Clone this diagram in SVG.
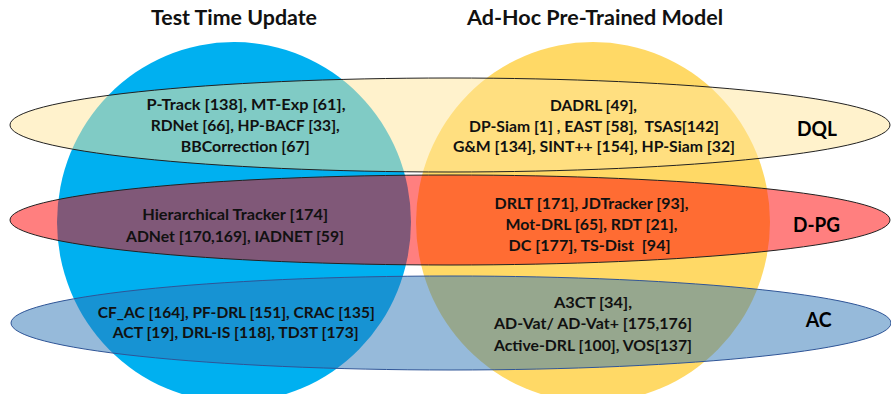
<svg xmlns="http://www.w3.org/2000/svg" width="891" height="394" viewBox="0 0 891 394">
  <style>
    .title { font-family: Lato, "Liberation Sans", sans-serif; font-weight: bold; font-size: 21px; fill: #111; text-anchor: middle; }
    .item { font-family: Lato, "Liberation Sans", sans-serif; font-weight: bold; font-size: 16px; fill: #111; text-anchor: middle; white-space: pre; }
    .tag { font-family: Lato, "Liberation Sans", sans-serif; font-weight: bold; font-size: 20px; fill: #000; text-anchor: middle; }
    .band { stroke-width: 1; }
  </style>

  <!-- Big category sets -->
  <g id="test-time-update">
    <ellipse cx="234" cy="222" rx="177" ry="180" fill="#00B0F0"/>
    <text class="title" x="234" y="25" textLength="166" lengthAdjust="spacingAndGlyphs">Test Time Update</text>
  </g>
  <g id="ad-hoc-pretrained">
    <ellipse cx="593" cy="222" rx="177" ry="180" fill="#FFD966"/>
    <text class="title" x="595" y="25" textLength="256" lengthAdjust="spacingAndGlyphs">Ad-Hoc Pre-Trained Model</text>
  </g>

  <!-- Algorithm family bands -->
  <g id="dql">
    <ellipse class="band" cx="450" cy="125" rx="440" ry="47" fill="#FFE599" fill-opacity="0.5" stroke="#222"/>
    <text class="tag" x="817" y="136" textLength="40" lengthAdjust="spacingAndGlyphs">DQL</text>
  </g>
  <g id="d-pg">
    <ellipse class="band" cx="450" cy="220" rx="440" ry="45" fill="#FF0000" fill-opacity="0.5" stroke="#222"/>
    <text class="tag" x="816.5" y="232" textLength="47" lengthAdjust="spacingAndGlyphs">D-PG</text>
  </g>
  <g id="ac">
    <ellipse class="band" cx="451" cy="323" rx="440" ry="47" fill="#2E75B6" fill-opacity="0.5" stroke="#2F5597"/>
    <text class="tag" x="818.7" y="327" textLength="26" lengthAdjust="spacingAndGlyphs">AC</text>
  </g>

  <!-- Region labels -->
  <g id="dql-test-time">
    <text class="item" x="246" y="109.5" textLength="199" lengthAdjust="spacingAndGlyphs">P-Track [138], MT-Exp [61],</text>
    <text class="item" x="245.2" y="130.5" textLength="189" lengthAdjust="spacingAndGlyphs">RDNet [66], HP-BACF [33],</text>
    <text class="item" x="245.2" y="151.5" textLength="129" lengthAdjust="spacingAndGlyphs">BBCorrection [67]</text>
  </g>
  <g id="dql-ad-hoc">
    <text class="item" x="593.5" y="110.7" textLength="87" lengthAdjust="spacingAndGlyphs">DADRL [49],</text>
    <text class="item" x="594" y="131.7" textLength="250" lengthAdjust="spacingAndGlyphs" xml:space="preserve">DP-Siam [1] , EAST [58],  TSAS[142]</text>
    <text class="item" x="594" y="151.7" textLength="282" lengthAdjust="spacingAndGlyphs">G&amp;M [134], SINT++ [154], HP-Siam [32]</text>
  </g>
  <g id="dpg-test-time">
    <text class="item" x="235.2" y="220" textLength="186" lengthAdjust="spacingAndGlyphs">Hierarchical Tracker [174]</text>
    <text class="item" x="235" y="242" textLength="218" lengthAdjust="spacingAndGlyphs">ADNet [170,169], IADNET [59]</text>
  </g>
  <g id="dpg-ad-hoc">
    <text class="item" x="591.5" y="209" textLength="194" lengthAdjust="spacingAndGlyphs">DRLT [171], JDTracker [93],</text>
    <text class="item" x="591.5" y="230" textLength="172" lengthAdjust="spacingAndGlyphs">Mot-DRL [65], RDT [21],</text>
    <text class="item" x="589.5" y="251" textLength="162" lengthAdjust="spacingAndGlyphs" xml:space="preserve">DC [177], TS-Dist  [94]</text>
  </g>
  <g id="ac-test-time">
    <text class="item" x="236.3" y="317.5" textLength="277" lengthAdjust="spacingAndGlyphs">CF_AC [164], PF-DRL [151], CRAC [135]</text>
    <text class="item" x="235.7" y="338.3" textLength="246" lengthAdjust="spacingAndGlyphs">ACT [19], DRL-IS [118], TD3T [173]</text>
  </g>
  <g id="ac-ad-hoc">
    <text class="item" x="593" y="307.5" textLength="78" lengthAdjust="spacingAndGlyphs">A3CT [34],</text>
    <text class="item" x="593" y="329" textLength="198" lengthAdjust="spacingAndGlyphs">AD-Vat/ AD-Vat+ [175,176]</text>
    <text class="item" x="593" y="350.7" textLength="198" lengthAdjust="spacingAndGlyphs">Active-DRL [100], VOS[137]</text>
  </g>

  <!-- No connectors in this diagram -->
  <g id="connectors"/>
</svg>
